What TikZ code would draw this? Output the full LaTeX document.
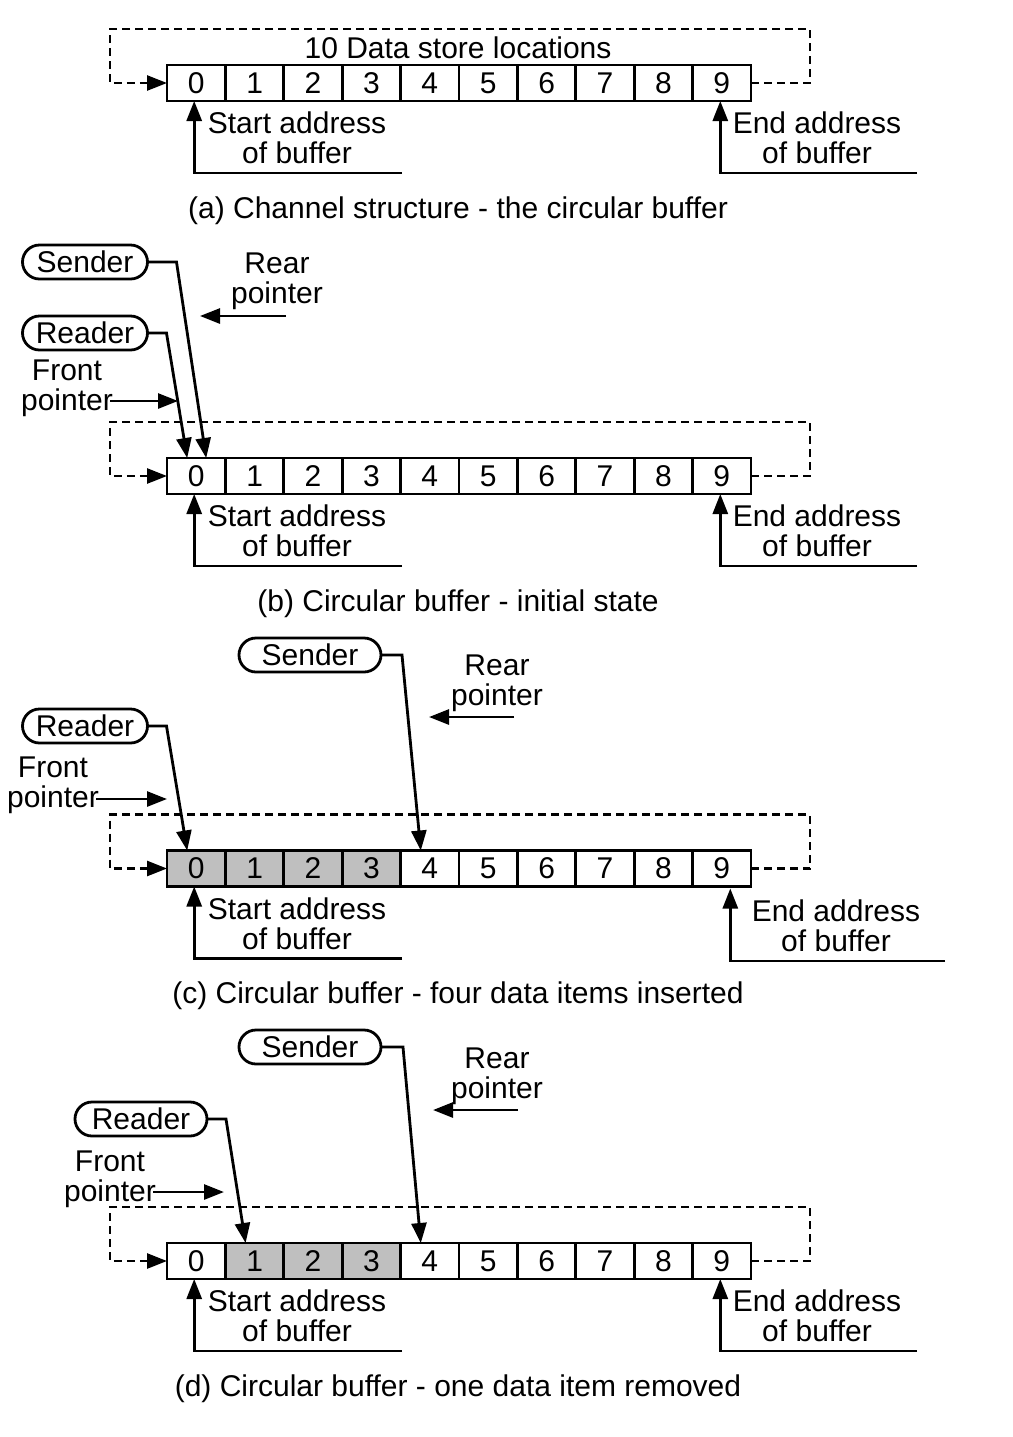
\documentclass[tikz,border=0pt]{standalone}
\usepackage{fontspec}
\setmainfont{Liberation Sans}
\usetikzlibrary{arrows.meta,calc}
\tikzset{
  every node/.style={font=\fontsize{15}{15}\selectfont, inner sep=0pt, outer sep=0pt},
  cell/.style={draw, line width=1.4pt, minimum width=29.2pt, minimum height=18pt, anchor=center},
  tip/.style={-{Triangle[length=10pt,width=7.5pt]}},
  ptr/.style={tip, line width=1.4pt},
  loopline/.style={tip, line width=1.3pt, dash pattern=on 4pt off 2.5pt},
  agent/.style={draw, line width=1.4pt, rounded corners=8.5pt, minimum width=62.5pt, minimum height=17pt},
  lbl/.style={align=center},
  captext/.style={anchor=center}
}
\begin{document}
\begin{tikzpicture}[x=0.5pt,y=-0.5pt]
\useasboundingbox (0,0) rectangle (1013,1437);

% ---------- cells ----------
\foreach \i in {0,...,9} {
  \node[cell, fill=white] (a\i) at ({167+58.4*(\i+0.5)},83) {\i};
  \node[cell, fill=white] (b\i) at ({167+58.4*(\i+0.5)},476) {\i};
}
\foreach \i/\f in {0/gray!50,1/gray!50,2/gray!50,3/gray!50,4/white,5/white,6/white,7/white,8/white,9/white} {
  \node[cell, fill=\f] (c\i) at ({167+58.4*(\i+0.5)},868.5) {\i};
}
\foreach \i/\f in {0/white,1/gray!50,2/gray!50,3/gray!50,4/white,5/white,6/white,7/white,8/white,9/white} {
  \node[cell, fill=\f] (d\i) at ({167+58.4*(\i+0.5)},1261) {\i};
}

% ---------- loops, start/end labels ----------
\foreach \p/\r in {a/83,b/476,c/868.5,d/1261} {
  \draw[loopline] (\p9.east) -- ++(59,0) -- ++(0,-54) -| ($(\p0.west)+(-57,0)$) -- (\p0.west);
  \node[lbl] (st\p) at (297,\r+55) {Start address\\of buffer};
  \coordinate (sa\p) at (402,\r+90);
  \draw[ptr] (sa\p) -| ($(\p0.south)+(-2,0)$);
}
\foreach \p/\r in {a/83,b/476,d/1261} {
  \node[lbl] (en\p) at (817,\r+55) {End address\\of buffer};
  \coordinate (ea\p) at (917,\r+90);
  \draw[ptr] (ea\p) -| ($(\p9.south)+(-1.5,0)$);
}
\node[lbl] (enc) at (836,925.5) {End address\\of buffer};
\coordinate (eac) at (945,961);
\draw[ptr] (eac) -| ($(c9.south)+(8.5,2)$);

% ---------- panel (a) ----------
\node (title) at (458,48) {10 Data store locations};
\node[captext] (capa) at (458,211) {(a) Channel structure - the circular buffer};

% ---------- panel (b) ----------
\node[agent] (sb) at (85,262) {Sender};
\node[agent] (rb) at (85,333) {Reader};
\draw[ptr] (sb.east) -- ++(29,0) -- ($(b0.north)+(10,0)$);
\draw[ptr] (rb.east) -- ++(19,0) -- ($(b0.north)+(-9,0)$);
\node[lbl] (rpb) at (277,281) {Rear\\pointer};
\coordinate (rpb1) at (286,316);
\coordinate (rpb2) at (200,316);
\draw[ptr] (rpb1) -- (rpb2);
\node[lbl] (fpb) at (67,388) {Front\\pointer};
\coordinate (fpb1) at (110,401);
\coordinate (fpb2) at (178,401);
\draw[ptr] (fpb1) -- (fpb2);
\node[captext] (capb) at (458,604) {(b) Circular buffer - initial state};

% ---------- panel (c) ----------
\node[agent, minimum width=71pt] (sc) at (310,655) {Sender};
\node[agent] (rc) at (85,726) {Reader};
\draw[ptr] (sc.east) -- ++(21,0) -- ($(c4.north)+(-9,0)$);
\draw[ptr] (rc.east) -- ++(19,0) -- ($(c0.north)+(-9,0)$);
\node[lbl] (rpc) at (497,683) {Rear\\pointer};
\coordinate (rpc1) at (514,717);
\coordinate (rpc2) at (429,717);
\draw[ptr] (rpc1) -- (rpc2);
\node[lbl] (fpc) at (53,785) {Front\\pointer};
\coordinate (fpc1) at (96,799);
\coordinate (fpc2) at (167,799);
\draw[ptr] (fpc1) -- (fpc2);
\node[captext] (capc) at (458,996) {(c) Circular buffer - four data items inserted};

% ---------- panel (d) ----------
\node[agent, minimum width=71pt] (sd) at (310,1047) {Sender};
\node[agent, minimum width=66pt] (rd) at (141,1119) {Reader};
\draw[ptr] (sd.east) -- ++(22,0) -- ($(d4.north)+(-9,0)$);
\draw[ptr] (rd.east) -- ++(19,0) -- ($(d1.north)+(-9,0)$);
\node[lbl] (rpd) at (497,1076) {Rear\\pointer};
\coordinate (rpd1) at (518,1110);
\coordinate (rpd2) at (433,1110);
\draw[ptr] (rpd1) -- (rpd2);
\node[lbl] (fpd) at (110,1179) {Front\\pointer};
\coordinate (fpd1) at (153,1192);
\coordinate (fpd2) at (224,1192);
\draw[ptr] (fpd1) -- (fpd2);
\node[captext] (capd) at (458,1389) {(d) Circular buffer - one data item removed};
\end{tikzpicture}
\end{document}
